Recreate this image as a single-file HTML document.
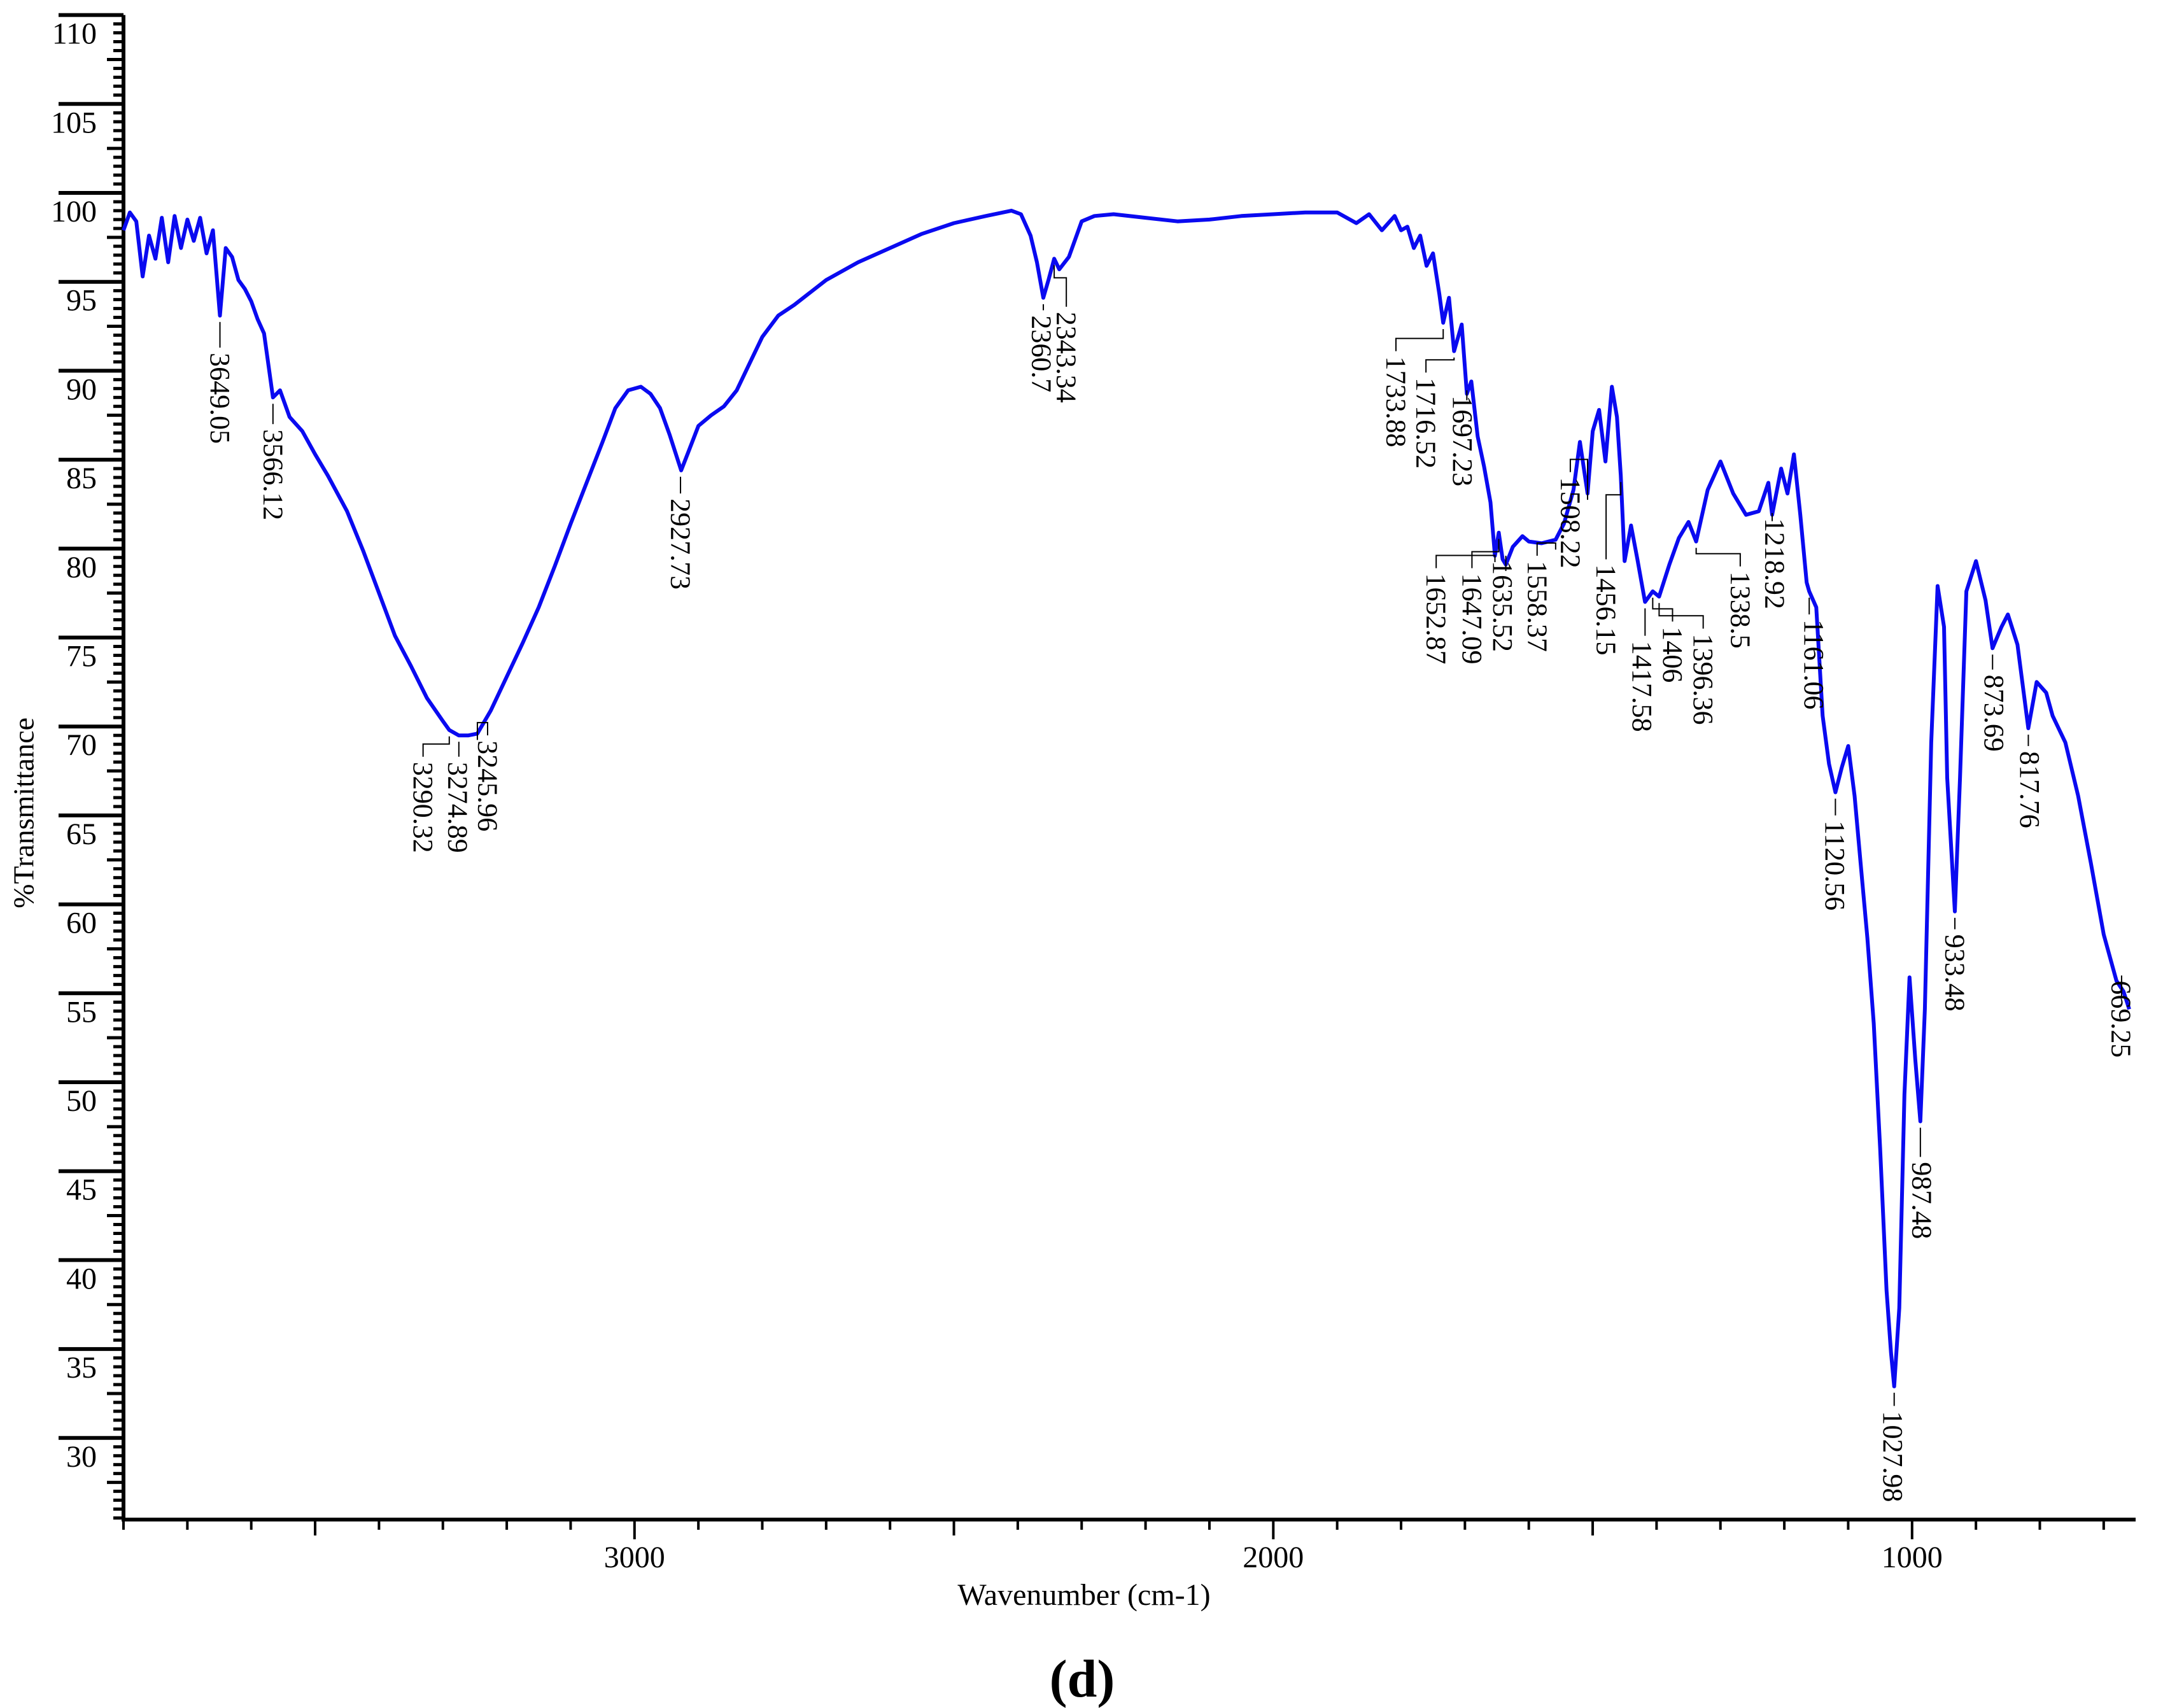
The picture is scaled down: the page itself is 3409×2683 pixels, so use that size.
<!DOCTYPE html>
<html><head><meta charset="utf-8"><style>
html,body{margin:0;padding:0;background:#fff}
svg{display:block}
text{font-family:"Liberation Serif",serif;fill:#000}
</style></head><body>
<svg id="chart" width="3409" height="2683" viewBox="0 0 3409 2683" xmlns="http://www.w3.org/2000/svg">
<g id="axes"></g>
<g id="series"></g>
<g id="annots"></g>
<text x="37" y="1277" font-size="46" text-anchor="middle" transform="rotate(-90 37 1277)" dominant-baseline="central">%Transmittance</text>
<text x="1703" y="2521" font-size="48" text-anchor="middle">Wavenumber (cm-1)</text>
<text x="1700" y="2665" font-size="84" font-weight="bold" text-anchor="middle">(d)</text>
</svg>
<script>
const wavenumbers=[3800,3790,3780,3770,3760,3750,3740,3730,3720,3710,3700,3690,3680,3670,3660,3649,3640,3630,3620,3610,3600,3590,3580,3566,3555,3540,3520,3500,3480,3450,3425,3400,3375,3350,3325,3300,3290,3275,3260,3246,3225,3200,3175,3150,3125,3100,3075,3050,3030,3010,2990,2975,2960,2945,2927,2915,2900,2880,2860,2840,2820,2800,2775,2750,2700,2650,2600,2550,2500,2450,2410,2395,2380,2370,2360,2352,2343,2335,2320,2300,2280,2250,2200,2150,2100,2050,2000,1950,1900,1870,1850,1830,1810,1800,1790,1780,1770,1760,1750,1740,1734,1725,1717,1705,1697,1690,1680,1670,1660,1653,1647,1641,1636,1625,1610,1600,1580,1558,1545,1530,1520,1508,1500,1490,1480,1470,1462,1456,1450,1440,1430,1418,1406,1396,1380,1365,1350,1338,1320,1300,1280,1260,1240,1225,1219,1205,1195,1185,1175,1165,1161,1150,1140,1130,1120,1110,1100,1090,1080,1070,1060,1050,1040,1033,1028,1020,1012,1004,995,987,980,970,960,950,945,933,925,915,900,885,874,860,850,835,818,805,790,780,760,740,720,700,680,669,660];
const transmittance=[97.9,98.9,98.4,95.3,97.6,96.3,98.6,96.1,98.7,96.9,98.5,97.3,98.6,96.6,97.9,93.1,96.9,96.4,95.1,94.6,93.9,92.9,92.1,88.5,88.9,87.4,86.6,85.3,84.1,82.1,79.9,77.5,75.1,73.4,71.6,70.3,69.8,69.5,69.5,69.6,70.9,72.8,74.7,76.7,79,81.4,83.7,86,87.9,88.9,89.1,88.7,87.9,86.4,84.4,85.5,86.9,87.5,88,88.9,90.4,91.9,93.1,93.7,95.1,96.1,96.9,97.7,98.3,98.7,99,98.8,97.6,96.1,94.1,95.1,96.3,95.7,96.4,98.4,98.7,98.8,98.6,98.4,98.5,98.7,98.8,98.9,98.9,98.3,98.8,97.9,98.7,97.9,98.1,96.9,97.6,95.9,96.6,94.3,92.7,94.1,91.1,92.6,88.7,89.4,86.3,84.6,82.6,79.6,80.9,79.4,79.1,80.1,80.7,80.4,80.3,80.5,81.4,83.3,86,83.1,86.6,87.8,84.9,89.1,87.4,84.1,79.3,81.3,79.4,77,77.6,77.3,79.1,80.6,81.5,80.4,83.3,84.9,83.1,81.9,82.1,83.7,81.9,84.5,83.1,85.3,81.9,78.1,77.6,76.7,70.6,67.9,66.3,67.7,68.9,66.1,62.1,58.1,53.3,46.3,38.3,34.8,32.9,37.3,49.3,55.9,51.3,47.8,54.1,69.1,77.9,75.6,67.1,59.6,67.1,77.6,79.3,77.1,74.4,75.6,76.3,74.6,69.9,72.5,71.9,70.6,69.1,66.1,62.3,58.3,55.7,55.1,54.1];
const yTickLabels=["110","105","100","95","90","85","80","75","70","65","60","55","50","45","40","35","30"];
const yTickValues=[110,105,100,95,90,85,80,75,70,65,60,55,50,45,40,35,30];
const xTickLabels=["3000","2000","1000"];
const xTickValues=[3000,2000,1000];
const peakLabels=["3649.05","3566.12","3290.32","3274.89","3245.96","2927.73","2360.7","2343.34","1733.88","1716.52","1697.23","1652.87","1647.09","1635.52","1558.37","1508.22","1456.15","1417.58","1406","1396.36","1338.5","1218.92","1161.06","1120.56","1027.98","987.48","933.48","873.69","817.76","669.25"];
const peakW=[3649,3566,3290,3275,3246,2928,2360,2343,1734,1717,1697,1653,1647,1636,1558,1508,1456,1418,1406,1396,1338,1219,1161,1120,1028,987,933,874,818,672];
const peakV=[93.1,88.5,69.8,69.5,69.6,84.4,94.1,96.3,92.7,91.1,88.7,79.6,80.9,79.1,80.3,83.1,84.1,77,77.6,77.3,80.4,81.9,77.6,66.3,32.9,47.8,59.6,74.4,69.9,55.1];
const labelW=[3649,3566,3331,3277,3230,2928,2363,2324,1808,1761,1704,1745,1689,1641,1587,1535,1479,1423,1375,1327,1269,1215,1154,1121,1030,985,933,872,816,673];
const labelV=[91.3,87,68.3,68.3,69.5,83.1,93.4,93.6,91.1,89.9,88.9,78.9,78.9,79.6,79.6,84.3,79.4,75.1,75.9,75.5,79,82,76.3,65,31.8,45.8,58.6,73.2,68.9,56];

const NS="http://www.w3.org/2000/svg";
const X0=194,PXW=1.0035,Y0=303,PXV=27.94;
function xs(w){return X0+(3800-w)*PXW;}
function ys(v){return Y0+(100-v)*PXV;}
function mk(tag,attrs,parent){const e=document.createElementNS(NS,tag);for(const k in attrs)e.setAttribute(k,attrs[k]);parent.appendChild(e);return e;}
const axes=document.getElementById('axes');
const yAxisTop=ys(110),xAxisY=2387,xAxisEnd=xs(650);
let yl=mk('line',{x1:X0,y1:yAxisTop,x2:X0,y2:xAxisY+3,stroke:'#000','stroke-width':6},axes);


let xl=mk('line',{x1:X0-3,y1:xAxisY,x2:xAxisEnd,y2:xAxisY,stroke:'#000','stroke-width':6},axes);


for(let i=0;i<=169;i++){const v=110-i*0.5;if(v<25.5)break;const y=ys(v);
 let x1=178,sw=5;if(Math.abs(v%5)<1e-6){x1=92;sw=6;}else if(Math.abs(v%2.5)<1e-6){x1=168;}
 const t=mk('line',{x1:x1,y1:y,x2:X0,y2:y,stroke:'#000','stroke-width':sw},axes);
 
 }
yTickValues.forEach((v,i)=>{const t=mk('text',{x:152,y:ys(v)+45,'font-size':48,'text-anchor':'end'},axes);t.textContent=yTickLabels[i];
 
 });
for(let w=3800;w>=700;w-=100){const x=xs(w);let len=16;if(w%1000===0)len=31;else if(w%500===0)len=25;
 const t=mk('line',{x1:x,y1:xAxisY,x2:x,y2:xAxisY+len,stroke:'#000','stroke-width':4},axes);
 
 }
xTickValues.forEach((w,i)=>{const t=mk('text',{x:xs(w),y:2462,'font-size':48,'text-anchor':'middle'},axes);t.textContent=xTickLabels[i];
 
 });
const series=document.getElementById('series');
let d=wavenumbers.map((w,i)=>(i?'L':'M')+xs(w).toFixed(1)+' '+ys(transmittance[i]).toFixed(1)).join(' ');
const p=mk('path',{d:d,fill:'none',stroke:'#0a0af0','stroke-width':6,'stroke-linejoin':'round'},series);


const ann=document.getElementById('annots');
peakLabels.forEach((s,i)=>{const px=xs(peakW[i]),py=ys(peakV[i])+10,lx=xs(labelW[i]),ly=ys(labelV[i]);
 let path;
 if(Math.abs(px-lx)<8){path=`M${px} ${py} L${px} ${ly}`;}
 else{const mid=Math.min(py+20,ly-20);path=`M${px} ${py} L${px} ${mid} L${lx} ${mid} L${lx} ${ly}`;}
 const l=mk('path',{d:path,fill:'none',stroke:'#000','stroke-width':2},ann);
 
 
 const t=mk('text',{x:lx,y:ly+8,'font-size':44,'dominant-baseline':'central',transform:`rotate(90 ${lx} ${ly+8})`},ann);
 t.textContent=s;
 
 });
</script>
</body></html>
